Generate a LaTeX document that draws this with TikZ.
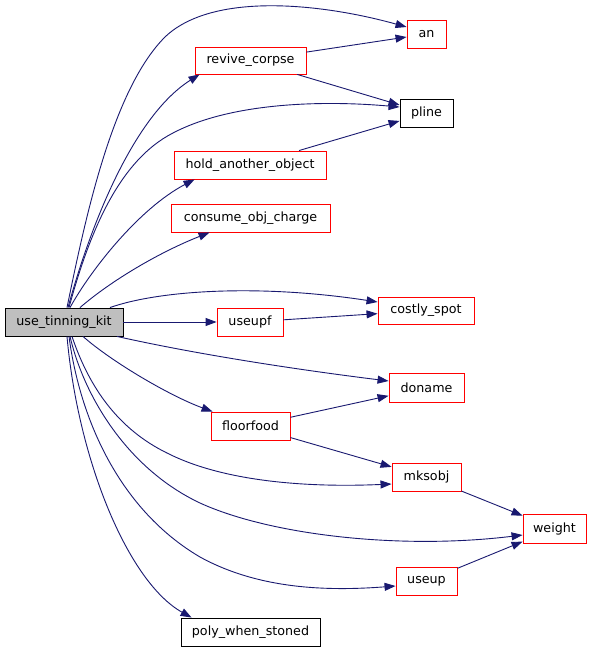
\documentclass[tikz,border=0pt]{standalone}
\usepackage{fontspec}
\setmainfont{DejaVu Sans}
\usetikzlibrary{arrows.meta}
\definecolor{edgeblue}{HTML}{191970}
\definecolor{boxred}{HTML}{FF0000}
\definecolor{boxgray}{HTML}{BFBFBF}
\tikzset{
  fn/.style={draw=boxred, line width=0.9pt, fill=white, inner sep=0pt, minimum height=28pt,
    font=\fontsize{12.7}{14}\selectfont},
  fnblack/.style={fn, draw=black},
  fnroot/.style={fn, draw=black, fill=boxgray},
  call/.style={draw=edgeblue, line width=0.9pt, -{Triangle[length=11pt,width=8pt]}, fill=none},
}
\begin{document}
\begin{tikzpicture}[x=1pt,y=-1pt]
\useasboundingbox (0,0) rectangle (592,652);
\fill[white] (0,0) rectangle (592,652);
% nodes
\node[fnroot, minimum width=118pt] (utk) at (64,322) {use\_tinning\_kit};
\node[fn, minimum width=39pt] (an) at (426.5,34) {an};
\node[fn, minimum width=111pt, minimum height=27pt] (rc) at (250.5,60.5) {revive\_corpse};
\node[fnblack, minimum width=53pt] (pline) at (426.5,113) {pline};
\node[fn, minimum width=152pt] (hao) at (250,165) {hold\_another\_object};
\node[fn, minimum width=159pt] (coc) at (250.5,218) {consume\_obj\_charge};
\node[fn, minimum width=96pt, minimum height=27pt] (cs) at (426,310.5) {costly\_spot};
\node[fn, minimum width=66pt] (useupf) at (250,322) {useupf};
\node[fn, minimum width=75pt, minimum height=29pt] (doname) at (426.5,387.5) {doname};
\node[fn, minimum width=79pt] (ff) at (250.5,426) {floorfood};
\node[fn, minimum width=69pt] (mksobj) at (426.5,477) {mksobj};
\node[fn, minimum width=63pt, minimum height=29pt] (weight) at (554.5,528.5) {weight};
\node[fn, minimum width=61pt] (useup) at (426.5,581) {useup};
\node[fnblack, minimum width=139pt] (pws) at (250.5,632) {poly\_when\_stoned};
% edges from use_tinning_kit (upwards)
\draw[call] ([xshift=3pt]utk.north) .. controls (85,220) and (112,90) .. (165,37)
  .. controls (212,-8) and (320,3) .. ([yshift=7pt]an.west);
\draw[call] ([xshift=4pt]utk.north) .. controls (92,220) and (135,115) .. ([xshift=5pt]rc.south west);
\draw[call] ([xshift=5pt]utk.north) .. controls (90,230) and (120,160) .. (173,133)
  .. controls (230,103) and (320,100) .. ([yshift=6pt]pline.west);
\draw[call] ([xshift=6pt]utk.north) .. controls (92,268) and (140,208) .. ([xshift=21pt]hao.south west);
\draw[call] ([xshift=16pt]utk.north) .. controls (112,280) and (160,252) .. ([xshift=39pt]coc.south west);
\draw[call] ([xshift=46pt]utk.north) .. controls (160,290) and (260,284) .. ([yshift=8.5pt]cs.west);
\draw[call] (utk) -- (useupf);
% edges from use_tinning_kit (downwards)
\draw[call] ([xshift=53pt]utk.south) .. controls (200,355) and (300,370) .. ([yshift=6.5pt]doname.west);
\draw[call] ([xshift=19pt]utk.south) .. controls (112,362) and (170,396) .. ([xshift=2pt]ff.north west);
\draw[call] ([xshift=8pt]utk.south) .. controls (90,390) and (120,430) .. (167,453)
  .. controls (220,480) and (300,488) .. ([yshift=-7pt]mksobj.west);
\draw[call] ([xshift=6pt]utk.south) .. controls (85,400) and (130,470) .. (200,503)
  .. controls (270,535) and (400,550) .. ([yshift=-6.5pt]weight.west);
\draw[call] ([xshift=5pt]utk.south) .. controls (80,420) and (120,510) .. (200,557)
  .. controls (260,590) and (330,591) .. ([yshift=-5pt]useup.west);
\draw[call] ([xshift=3pt]utk.south) .. controls (78,460) and (128,582) .. ([xshift=11pt]pws.north west);
% node-to-node edges
\draw[call] (rc) -- (an);
\draw[call] (rc) -- (pline);
\draw[call] (hao) -- (pline);
\draw[call] (useupf) -- (cs);
\draw[call] (ff) -- (doname);
\draw[call] (ff) -- (mksobj);
\draw[call] (mksobj) -- (weight);
\draw[call] (useup) -- (weight);
\end{tikzpicture}
\end{document}
